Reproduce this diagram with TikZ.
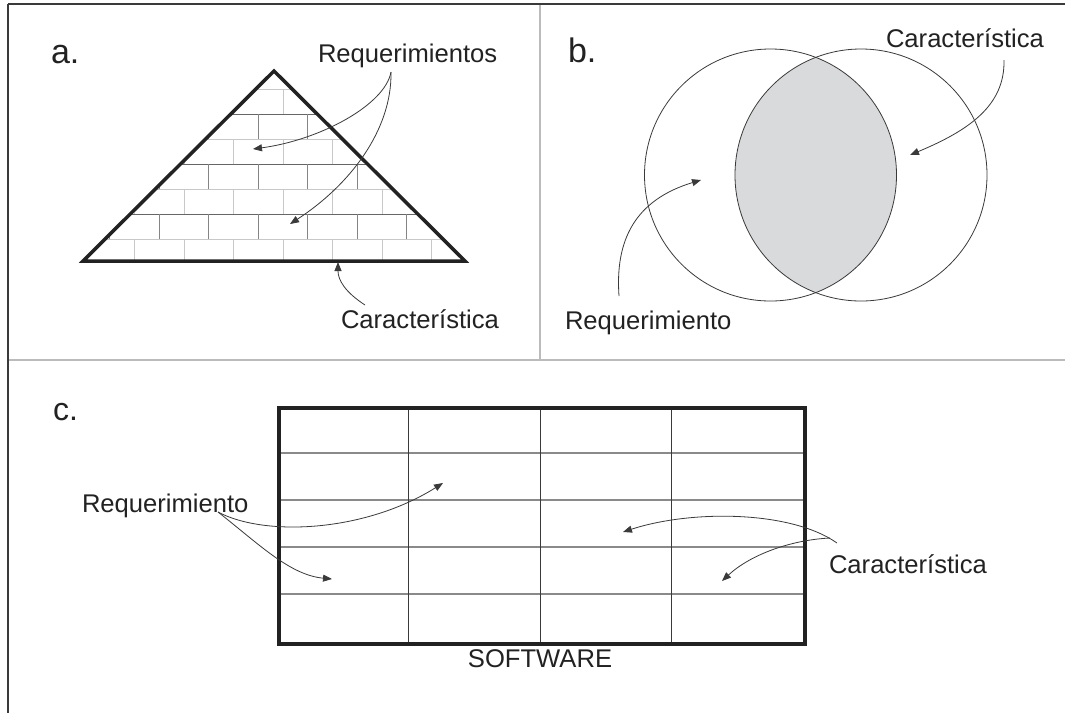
\documentclass[tikz,border=0pt]{standalone}
\usepackage{fontspec}
\setmainfont{Liberation Sans}
\usetikzlibrary{arrows.meta}
\definecolor{ink}{HTML}{222222}
\definecolor{frame}{HTML}{3A3A3A}
\definecolor{divider}{HTML}{BBBBBB}
\definecolor{lens}{HTML}{D9DADB}
\definecolor{brickdark}{HTML}{666666}
\definecolor{bricklight}{HTML}{C8C8C8}
\definecolor{rowline}{HTML}{8A8A8A}
\tikzset{
  txt/.style={inner sep=0pt, outer sep=0pt, anchor=base west, text=ink, font=\fontsize{25.6}{30}\selectfont},
  panel/.style={inner sep=0pt, outer sep=0pt, anchor=base west, text=ink, font=\fontsize{34}{40}\selectfont},
  pointer/.style={draw=frame, line width=0.8pt, -{Triangle[length=9pt,width=7pt]}},
  thickedge/.style={draw=ink, line width=3.5pt, line join=miter},
}
\begin{document}
\begin{tikzpicture}[x=1pt,y=-1pt]
\useasboundingbox (0,0) rectangle (1065,713);
\fill[white] (0,0) rectangle (1065,713);

% frame and dividers
\coordinate (tl) at (8,4);
\coordinate (tr) at (1065,4);
\coordinate (bl) at (8,713);
\coordinate (ml) at (8,360);
\coordinate (mr) at (1065,360);
\coordinate (vt) at (540,4);
\coordinate (vb) at (540,360);
\draw[divider, line width=2pt] (ml) -- (mr);
\draw[divider, line width=2pt] (vt) -- (vb);
\draw[frame, line width=1.3pt] (tl) -- (tr);
\draw[frame, line width=1.5pt] (tl) -- (bl);

% ---------------- panel a: pyramid ----------------
\coordinate (apex) at (274,71);
\coordinate (bleft) at (83,261);
\coordinate (bright) at (465,261);
\begin{scope}
  \clip (apex) -- (bleft) -- (bright) -- cycle;
  % light horizontals
  \foreach \y in {89,139,189,239} \draw[bricklight, line width=1pt] (83,\y) -- (465,\y);
  % dark horizontals
  \foreach \y in {114,164,214} \draw[brickdark, line width=1pt] (83,\y) -- (465,\y);
  % rows of type A (light joints)
  \foreach \ya/\yb in {89/114,139/164,189/214,239/261}
    \foreach \x in {85,134.5,184,233.5,283,332.5,382,431.5}
      \draw[bricklight, line width=1pt] (\x,\ya) -- (\x,\yb);
  % rows of type B (darker joints)
  \foreach \ya/\yb in {114/139,164/189,214/239}
    \foreach \x in {109.5,159,208.5,258,307.5,357,406.5,456}
      \draw[brickdark!80, line width=0.9pt] (\x,\ya) -- (\x,\yb);
\end{scope}
\draw[thickedge] (apex) -- (bleft) -- (bright) -- cycle;

\node[panel] (la) at (51,63) {a.};
\node[txt] (reqs) at (318,62) {Requerimientos};
\node[txt] (cara) at (341,328) {Característica};

\coordinate (sa) at (391,72);
\coordinate (ta1) at (253,149);
\coordinate (ta2) at (290,224);
\coordinate (sa3) at (365,305);
\coordinate (ta3) at (338,262);
\draw[pointer] (sa) .. controls (385,105) and (320,140) .. (ta1);
\draw[pointer] (sa) .. controls (392,130) and (350,185) .. (ta2);
\draw[pointer] (sa3) .. controls (345,292) and (338,280) .. (ta3);

% ---------------- panel b: circles ----------------
\coordinate (cL) at (770.5,175);
\coordinate (cR) at (861,175);
\begin{scope}
  \clip (cL) circle[radius=126pt];
  \fill[lens] (cR) circle[radius=126pt];
\end{scope}
\draw[frame, line width=0.8pt] (cL) circle[radius=126pt];
\draw[frame, line width=0.8pt] (cR) circle[radius=126pt];

\node[panel] (lb) at (568,62) {b.};
\node[txt] (carb) at (886,47) {Característica};
\node[txt] (reqb) at (565,329) {Requerimiento};

\coordinate (sb1) at (1004,60);
\coordinate (tb1) at (910,155);
\coordinate (sb2) at (619,296);
\coordinate (tb2) at (701,180);
\draw[pointer] (sb1) .. controls (1005,105) and (970,130) .. (tb1);
\draw[pointer] (sb2) .. controls (615,240) and (635,200) .. (tb2);

% ---------------- panel c: table ----------------
\foreach \y in {453,500,547,594} \draw[rowline, line width=1.5pt] (277,\y) -- (803,\y);
\foreach \x in {408,540,671} \draw[frame, line width=0.8pt] (\x,406) -- (\x,642);
\node[draw=ink, line width=3.5pt, inner sep=0pt, minimum width=526pt, minimum height=236pt, anchor=north west] (table) at (277,406) {};

\node[inner sep=0pt, outer sep=0pt, anchor=base west, text=ink, font=\fontsize{32}{38}\selectfont] (lc) at (53,420) {c.};
\node[txt] (reqc) at (82,512) {Requerimiento};
\node[txt] (carc) at (829,573) {Característica};
\node[txt, anchor=base] (soft) at (540,667) {SOFTWARE};

\coordinate (sc) at (218,512);
\coordinate (tc1) at (443,483);
\coordinate (tc2) at (332,579);
\coordinate (sc3) at (837,543);
\coordinate (tc3) at (623,532);
\coordinate (sc4) at (830,538);
\coordinate (tc4) at (722,581);
\draw[pointer] (sc) .. controls (265,537) and (365,532) .. (tc1);
\draw[pointer] (sc) .. controls (260,545) and (290,575) .. (tc2);
\draw[pointer] (sc3) .. controls (790,510) and (690,510) .. (tc3);
\draw[pointer] (sc4) .. controls (790,540) and (750,555) .. (tc4);
\end{tikzpicture}
\end{document}
